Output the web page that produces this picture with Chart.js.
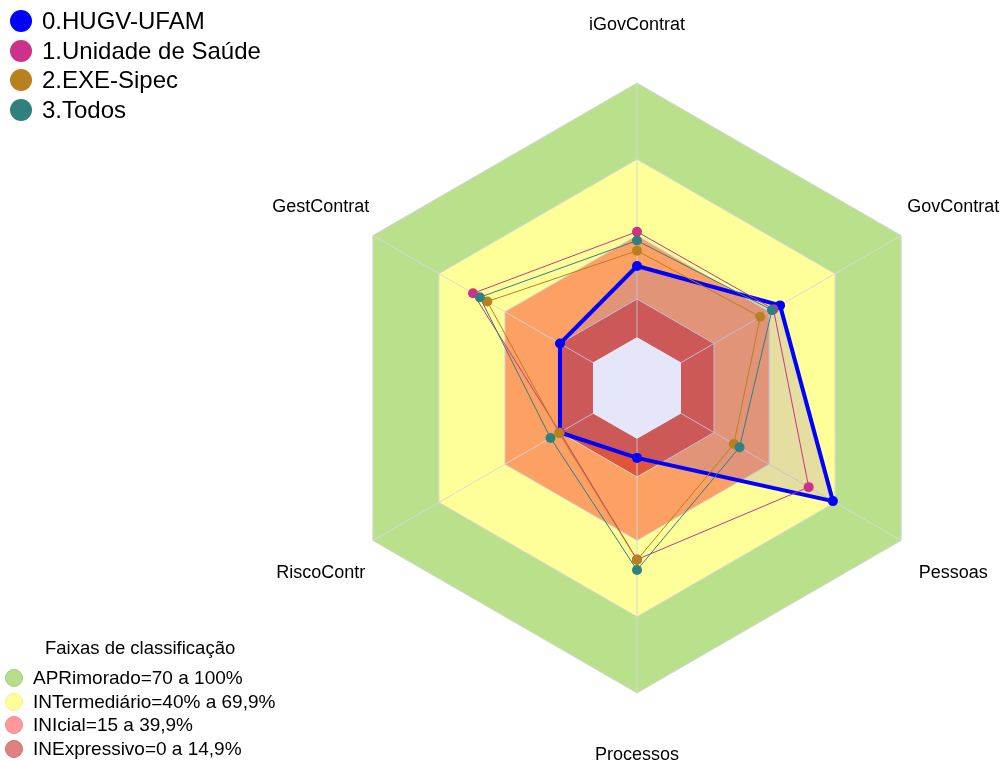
<!DOCTYPE html>
<html>
<head>
<meta charset="utf-8">
<script src="https://cdn.jsdelivr.net/npm/chart.js@4.4.1/dist/chart.umd.min.js"></script>
<style>
  html, body { margin: 0; padding: 0; background: #ffffff; }
  #wrap { position: relative; width: 1005px; height: 761px; overflow: hidden; font-family: "Liberation Sans", Arial, sans-serif; }
  #c { position: absolute; left: 0; top: 0; }
  .leg { position: absolute; color: #000; }
  .row { position: absolute; display: flex; align-items: center; white-space: nowrap; }
  .dot { display: inline-block; border-radius: 50%; box-sizing: border-box; }
</style>
</head>
<body>
<div id="wrap">
  <canvas id="c" width="1005" height="761"></canvas>
  <div id="legTop" class="leg"></div>
  <div id="legBottom" class="leg"></div>
</div>
<script>
// ---- data ----
const categories = ['iGovContrat', 'GovContrat', 'Pessoas', 'Processos', 'RiscoContr', 'GestContrat'];
const seriesNames = ['0.HUGV-UFAM', '1.Unidade de Saúde', '2.EXE-Sipec', '3.Todos'];
const hugv  = [28, 45, 69, 7.5, 15, 15];
const saude = [41.5, 42, 58, 47.5, 15, 54.5];
const exe   = [34, 36, 24, 47.7, 15.4, 48];
const todos = [38, 41.3, 26.6, 51.6, 19.3, 51.4];
const bandLimits = [100, 70, 40, 15, 0];
const bandNames = ['APRimorado=70 a 100%', 'INTermediário=40% a 69,9%', 'INIcial=15 a 39,9%', 'INExpressivo=0 a 14,9%'];
const legendTitle = 'Faixas de classificação';

// ---- styles ----
const seriesColors = ['#0000FF', '#CC3388', '#B8801E', '#318080'];
const bandColors = ['#B9E18C', '#FFFF99', '#FCA064', '#E0553A', '#E6E6FA'];
const bandLegendColors = ['#B5DD8A', '#FFFF99', '#FF9999', '#E08080'];
const bandLegendBorders = ['#A6CF7C', '#F0F08A', '#F08A8A', '#D07070'];

const n = categories.length;
const seriesData = [hugv, saude, exe, todos];

const datasets = [];
seriesData.forEach((d, i) => {
  datasets.push({
    label: seriesNames[i],
    data: d,
    borderColor: seriesColors[i],
    backgroundColor: i === 0 ? 'rgba(130,105,190,0.22)' : 'rgba(0,0,0,0)',
    fill: i === 0 ? 'origin' : false,
    borderWidth: i === 0 ? 4 : 1,
    pointRadius: 5,
    pointBorderWidth: 0,
    pointBackgroundColor: seriesColors[i],
    pointBorderColor: seriesColors[i],
    order: 3 - i,
    tension: 0
  });
});
bandLimits.forEach((v, j) => {
  const isHole = v === 0;
  datasets.push({
    label: 'band' + j,
    data: new Array(n).fill(v),
    borderColor: isHole ? 'rgba(0,0,0,0)' : '#D6D6D6',
    borderWidth: isHole ? 0 : 1,
    backgroundColor: bandColors[j],
    fill: isHole ? 'start' : 'origin',
    pointRadius: 0,
    order: 10 - j,
    tension: 0
  });
});
const holeIndex = datasets.findIndex(ds => ds.label === 'band4');

const spokesPlugin = {
  id: 'spokes',
  afterDatasetDraw(chart, args) {
    if (args.index !== holeIndex) return;
    const s = chart.scales.r;
    const ctx = chart.ctx;
    ctx.save();
    ctx.strokeStyle = 'rgba(215,215,225,0.9)';
    ctx.lineWidth = 1;
    for (let i = 0; i < n; i++) {
      const a = s.getPointPositionForValue(i, 0);
      const b = s.getPointPositionForValue(i, 100);
      ctx.beginPath();
      ctx.moveTo(a.x, a.y);
      ctx.lineTo(b.x, b.y);
      ctx.stroke();
    }
    ctx.restore();
  }
};

const axisLabelsPlugin = {
  id: 'axisLabels',
  afterDraw(chart) {
    const s = chart.scales.r;
    const ctx = chart.ctx;
    ctx.save();
    ctx.font = '18px "Liberation Sans", Arial, sans-serif';
    ctx.fillStyle = '#000';
    ctx.textAlign = 'center';
    ctx.textBaseline = 'middle';
    const dist = s.drawingArea * 1.197;
    for (let i = 0; i < n; i++) {
      const p = s.getPointPosition(i, dist);
      ctx.fillText(categories[i], p.x, p.y + 2);
    }
    ctx.restore();
  }
};

new Chart(document.getElementById('c'), {
  type: 'radar',
  data: { labels: categories, datasets },
  options: {
    responsive: false,
    animation: false,
    layout: { padding: { left: 332, right: 63, top: 83, bottom: 68 } },
    plugins: { legend: { display: false }, tooltip: { enabled: false } },
    elements: { line: { tension: 0 } },
    scales: {
      r: {
        min: -20,
        max: 100,
        ticks: { display: false, stepSize: 20 },
        grid: { display: false },
        angleLines: { display: false },
        pointLabels: { display: false }
      }
    }
  },
  plugins: [spokesPlugin, axisLabelsPlugin]
});

// ---- HTML legends ----
const legTop = document.getElementById('legTop');
seriesNames.forEach((name, i) => {
  const row = document.createElement('div');
  row.className = 'row';
  row.style.left = '10px';
  row.style.top = (6 + i * 29.5) + 'px';
  row.style.height = '30px';
  row.style.fontSize = '24px';
  const dot = document.createElement('span');
  dot.className = 'dot';
  dot.style.width = '22px'; dot.style.height = '22px';
  dot.style.background = seriesColors[i];
  dot.style.marginRight = '10px';
  row.appendChild(dot);
  row.appendChild(document.createTextNode(name));
  legTop.appendChild(row);
});
const legBottom = document.getElementById('legBottom');
const title = document.createElement('div');
title.className = 'row';
title.style.left = '45px'; title.style.top = '637px'; title.style.fontSize = '18.5px';
title.textContent = legendTitle;
legBottom.appendChild(title);
bandNames.forEach((name, i) => {
  const row = document.createElement('div');
  row.className = 'row';
  row.style.left = '5px';
  row.style.top = (666 + i * 23.7) + 'px';
  row.style.height = '24px';
  row.style.fontSize = '19px';
  const dot = document.createElement('span');
  dot.className = 'dot';
  dot.style.width = '18px'; dot.style.height = '18px';
  dot.style.background = bandLegendColors[i];
  dot.style.border = '1px solid ' + bandLegendBorders[i];
  dot.style.marginRight = '10px';
  row.appendChild(dot);
  row.appendChild(document.createTextNode(name));
  legBottom.appendChild(row);
});
</script>
</body>
</html>
